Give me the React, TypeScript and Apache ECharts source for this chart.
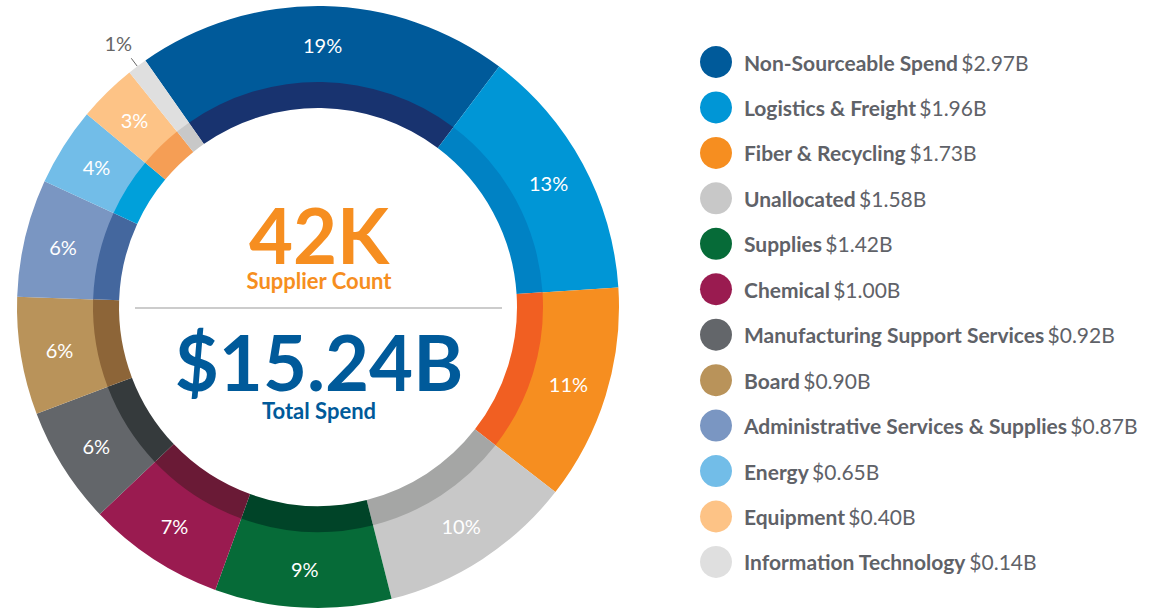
import React, { useEffect, useRef } from "react";
import * as echarts from "echarts";

const categories = [
  "Non-Sourceable Spend",
  "Logistics & Freight",
  "Fiber & Recycling",
  "Unallocated",
  "Supplies",
  "Chemical",
  "Manufacturing Support Services",
  "Board",
  "Administrative Services & Supplies",
  "Energy",
  "Equipment",
  "Information Technology",
];
const spendBillions = [2.97, 1.96, 1.73, 1.58, 1.42, 1.0, 0.92, 0.9, 0.87, 0.65, 0.4, 0.14];
const percentShares = [19, 13, 11, 10, 9, 7, 6, 6, 6, 4, 3, 1];
const outerColors = [
  "#005A9A", "#0096D6", "#F68E20", "#C8C8C8", "#066B38", "#9A1B50",
  "#63666A", "#B9935A", "#7A96C2", "#72BDE8", "#FDC386", "#DFDFDF",
];
const innerColors = [
  "#18336F", "#0082C4", "#F15F22", "#A5A6A5", "#004428", "#6A1A36",
  "#353A3C", "#8D6538", "#44679E", "#00A0DA", "#F59E55", "#C8C8C8",
];
const supplierCount = "42K";
const supplierLabel = "Supplier Count";
const totalSpend = "$15.24B";
const totalLabel = "Total Spend";

const FONT = "Lato, 'Open Sans', sans-serif";

export default function App() {
  const ref = useRef<HTMLDivElement>(null);
  useEffect(() => {
    if (!ref.current) return;
    const chart = echarts.init(ref.current, undefined, { renderer: "svg" });
    const cx = 318;
    const cy = 307;
    const lastIdx = categories.length - 1;
    chart.setOption({
      animation: false,
      backgroundColor: "#ffffff",
      legend: {
        orient: "vertical",
        left: 700,
        top: 46,
        padding: 0,
        itemWidth: 32,
        itemHeight: 32,
        itemGap: 13.45,
        icon: "circle",
        selectedMode: false,
        data: categories,
        formatter: (name: string) => {
          const i = categories.indexOf(name);
          return `{n|${name}} {v|$${spendBillions[i].toFixed(2)}B}`;
        },
        textStyle: {
          padding: [0, 0, 0, 7],
          rich: {
            n: { fontFamily: FONT, fontSize: 21, fontWeight: "bold", color: "#5F6268" },
            v: { fontFamily: FONT, fontSize: 21, fontWeight: "normal", color: "#5F6268" },
          },
        },
      },
      series: [
        {
          type: "pie",
          name: "outer",
          center: [cx, cy],
          radius: [224, 301],
          startAngle: 125,
          clockwise: true,
          silent: true,
          itemStyle: { borderWidth: 0 },
          label: { show: false },
          labelLine: { show: false },
          data: categories.map((name, i) => ({
            name,
            value: percentShares[i],
            itemStyle: { color: outerColors[i] },
          })),
        },
        {
          type: "pie",
          name: "inner",
          center: [cx, cy],
          radius: [199, 225],
          startAngle: 125,
          clockwise: true,
          silent: true,
          label: { show: false },
          labelLine: { show: false },
          itemStyle: { borderWidth: 0 },
          data: categories.map((name, i) => ({
            name,
            value: percentShares[i],
            itemStyle: { color: innerColors[i] },
          })),
        },
        {
          type: "pie",
          name: "labels",
          center: [cx, cy],
          radius: [217, 301],
          startAngle: 125,
          clockwise: true,
          silent: true,
          avoidLabelOverlap: false,
          legendHoverLink: false,
          itemStyle: { color: "rgba(0,0,0,0)", borderWidth: 0 },
          label: {
            show: true,
            position: "inside",
            color: "#ffffff",
            fontFamily: FONT,
            fontSize: 20,
            fontWeight: "normal",
            formatter: (p: any) => `${percentShares[p.dataIndex]}%`,
          },
          labelLine: { show: false },
          labelLayout: (params: any) =>
            params.dataIndex === lastIdx ? { dx: -8, dy: -15, align: "center" } : {},
          data: categories.map((name, i) => ({
            name,
            value: percentShares[i],
            ...(i === lastIdx
              ? {
                  label: {
                    position: "outside",
                    color: "#666666",
                    fontSize: 20,
                  },
                  labelLine: {
                    show: true,
                    length: 10,
                    length2: 0,
                    lineStyle: { color: "#666666", width: 1 },
                  },
                }
              : {}),
          })),
        },
      ],
      graphic: [
        {
          type: "text",
          x: cx + 1,
          y: 201,
          style: {
            text: `{a|${supplierCount}}\n{b|${supplierLabel}}`,
            textAlign: "center",
            textVerticalAlign: "top",
            rich: {
              a: {
                fill: "#F68E20",
                color: "#F68E20",
                fontFamily: FONT,
                fontWeight: "bold",
                fontSize: 76,
                lineHeight: 66,
                align: "center",
              },
              b: {
                fill: "#F68E20",
                color: "#F68E20",
                fontFamily: FONT,
                fontWeight: "bold",
                fontSize: 22,
                lineHeight: 26,
                align: "center",
              },
            },
          },
        },
        {
          type: "line",
          shape: { x1: 135, y1: 308, x2: 502, y2: 308 },
          style: { stroke: "#CCCCCC", lineWidth: 2 },
        },
        {
          type: "text",
          x: cx + 1,
          y: 325,
          style: {
            text: `{a|${totalSpend}}\n{b|${totalLabel}}`,
            textAlign: "center",
            textVerticalAlign: "top",
            rich: {
              a: {
                fill: "#005A9A",
                color: "#005A9A",
                fontFamily: FONT,
                fontWeight: "bold",
                fontSize: 76,
                lineHeight: 72,
                align: "center",
              },
              b: {
                fill: "#005A9A",
                color: "#005A9A",
                fontFamily: FONT,
                fontWeight: "bold",
                fontSize: 22,
                lineHeight: 26,
                align: "center",
              },
            },
          },
        },
      ],
    });
    return () => chart.dispose();
  }, []);
  return (
    <div
      ref={ref}
      style={{ position: "fixed", left: 0, top: 0, width: 1169, height: 610 }}
    />
  );
}
